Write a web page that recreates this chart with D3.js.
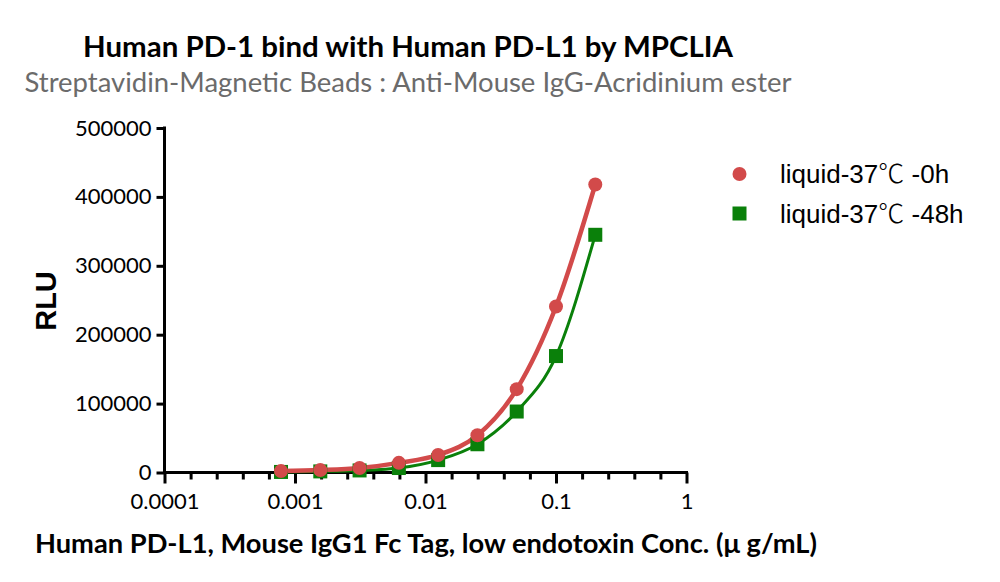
<!DOCTYPE html>
<html>
<head>
<meta charset="utf-8">
<script src="https://cdn.jsdelivr.net/npm/d3@7"></script>
<style>
  html, body { margin: 0; padding: 0; background: #fff; }
  svg { display: block; }
</style>
</head>
<body>
<svg id="chart" width="1000" height="582"></svg>
<script>
// ---- data ----
const concentrations = [0.2, 0.1, 0.05, 0.025, 0.0125, 0.00625, 0.003125, 0.0015625, 0.00078125];
const rlu0h  = [418000, 241000, 121000, 54000, 25500, 14000, 6500, 3500, 2000];
const rlu48h = [345000, 169000, 88500, 41000, 18000, 6500, 3000, 1600, 800];
const seriesPrefix = ["liquid-37", "liquid-37"];
const seriesUnit = "℃";
const seriesSuffix = [" -0h", " -48h"];
const xTickValues = [0.0001, 0.001, 0.01, 0.1, 1];
const xTickLabels = ["0.0001", "0.001", "0.01", "0.1", "1"];
const yTickValues = [0, 100000, 200000, 300000, 400000, 500000];
const yTickLabels = ["0", "100000", "200000", "300000", "400000", "500000"];
const titleText = "Human PD-1 bind with Human PD-L1 by MPCLIA";
const subtitleText = "Streptavidin-Magnetic Beads : Anti-Mouse IgG-Acridinium ester";
const xTitleText = "Human PD-L1, Mouse IgG1 Fc Tag, low endotoxin Conc. (μ g/mL)";
const yTitleText = "RLU";

// ---- layout ----
const svg = d3.select("#chart");
const X0 = 164.5, X1 = 686.5, Y0 = 472.5, Y1 = 128;
const x = d3.scaleLog().domain([0.0001, 1]).range([X0, X1]);
const y = d3.scaleLinear().domain([0, 500000]).range([Y0, Y1]);

const red = "#d24a4a", green = "#0a800a";
const calibriLike = "Lato, 'Open Sans', sans-serif";
const arialLike = "'Liberation Sans', Arial, sans-serif";
const cjk = "'Noto Sans CJK SC', 'Noto Sans CJK JP', sans-serif";

// titles
svg.append("text").attr("x", 408).attr("y", 57).attr("text-anchor", "middle")
  .attr("font-family", calibriLike).attr("font-weight", 700).attr("font-size", 28)
  .attr("textLength", 650).attr("lengthAdjust", "spacingAndGlyphs")
  .attr("fill", "#000").text(titleText);
svg.append("text").attr("x", 408).attr("y", 92).attr("text-anchor", "middle")
  .attr("font-family", calibriLike).attr("font-size", 26)
  .attr("textLength", 767).attr("lengthAdjust", "spacingAndGlyphs")
  .attr("fill", "#6b6b6b").text(subtitleText);

// axes
const axisStroke = 3;
const gY = svg.append("g").attr("transform", `translate(${X0},0)`)
  .call(d3.axisLeft(y).tickValues(yTickValues).tickFormat((d, i) => yTickLabels[i]).tickSizeOuter(0).tickSize(8).tickPadding(5));
gY.select(".domain").attr("stroke-width", axisStroke).attr("d", `M0,${Y1 - 1.5}V${Y0 + 1.5}`);
gY.selectAll(".tick line").attr("stroke-width", axisStroke);
gY.selectAll(".tick text").attr("font-family", calibriLike).attr("font-size", 22).attr("fill", "#000");

const minorTicks = [];
for (let k = -4; k < 0; k++) for (let j = 1; j < 5; j++) minorTicks.push(Math.pow(10, k + j / 5));

const gXminor = svg.append("g").attr("transform", `translate(0,${Y0})`)
  .call(d3.axisBottom(x).tickValues(minorTicks).tickFormat("").tickSize(7).tickSizeOuter(0));
gXminor.select(".domain").remove();
gXminor.selectAll(".tick line").attr("stroke-width", axisStroke);

const gX = svg.append("g").attr("transform", `translate(0,${Y0})`)
  .call(d3.axisBottom(x).tickValues(xTickValues).tickFormat((d, i) => xTickLabels[i]).tickSize(11).tickSizeOuter(0).tickPadding(6));
gX.select(".domain").attr("stroke-width", axisStroke).attr("d", `M${X0 - 1.5},0H${X1 + 1.5}`);
gX.selectAll(".tick line").attr("stroke-width", axisStroke);
gX.selectAll(".tick text").attr("font-family", calibriLike).attr("font-size", 22).attr("fill", "#000").attr("dy", "0.9em");

// axis titles
svg.append("text").attr("transform", "translate(56,301) rotate(-90)").attr("text-anchor", "middle")
  .attr("font-family", arialLike).attr("font-weight", 700).attr("font-size", 29)
  .attr("fill", "#000").text(yTitleText);
svg.append("text").attr("x", 426).attr("y", 553).attr("text-anchor", "middle")
  .attr("font-family", calibriLike).attr("font-weight", 700).attr("font-size", 27)
  .attr("textLength", 782).attr("lengthAdjust", "spacingAndGlyphs")
  .attr("fill", "#000").text(xTitleText);

// curves
const pts0 = concentrations.map((c, i) => [c, rlu0h[i]]).sort((a, b) => a[0] - b[0]);
const pts48 = concentrations.map((c, i) => [c, rlu48h[i]]).sort((a, b) => a[0] - b[0]);
const line = d3.line().x(d => x(d[0])).y(d => y(d[1])).curve(d3.curveMonotoneX);

svg.append("path").attr("d", line(pts48)).attr("fill", "none").attr("stroke", green).attr("stroke-width", 3);
svg.append("path").attr("d", line(pts0)).attr("fill", "none").attr("stroke", red).attr("stroke-width", 4.5);

// markers
const sq = 14;
svg.append("g").selectAll("rect").data(pts48).join("rect")
  .attr("x", d => x(d[0]) - sq / 2).attr("y", d => y(d[1]) - sq / 2)
  .attr("width", sq).attr("height", sq).attr("fill", green);
svg.append("g").selectAll("circle").data(pts0).join("circle")
  .attr("cx", d => x(d[0])).attr("cy", d => y(d[1])).attr("r", 7).attr("fill", red);

// legend
const leg = svg.append("g");
leg.append("circle").attr("cx", 739.5).attr("cy", 174).attr("r", 7).attr("fill", red);
leg.append("rect").attr("x", 739.5 - 7).attr("y", 213.5 - 7).attr("width", 14).attr("height", 14).attr("fill", green);
const legY = [183, 222.5];
[0, 1].forEach(i => {
  const t = leg.append("text").attr("x", 780).attr("y", legY[i]).attr("font-family", arialLike)
    .attr("font-size", 26).attr("fill", "#000");
  t.append("tspan").text(seriesPrefix[i]);
  t.append("tspan").attr("font-family", cjk).attr("font-weight", 300).text(seriesUnit);
  t.append("tspan").text(seriesSuffix[i]);
});
</script>
</body>
</html>
